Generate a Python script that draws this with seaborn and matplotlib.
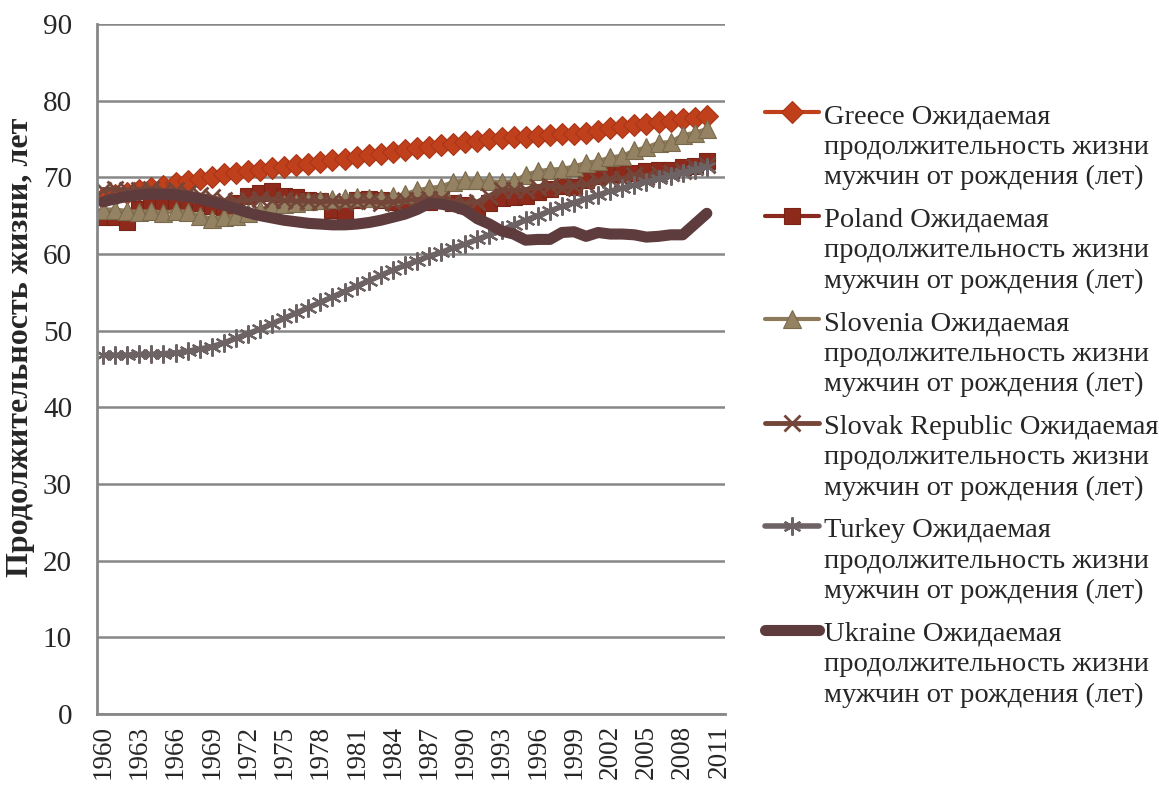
import matplotlib
matplotlib.use("Agg")
import matplotlib.pyplot as plt
import seaborn as sns
from matplotlib.legend_handler import HandlerLine2D

# categories on the x axis (2011 has no data)
years = list(range(1960, 2012))
data_years = list(range(1960, 2011))

greece = [67.3, 67.7, 68.0, 68.3, 68.6, 68.9, 69.2, 69.5, 69.8, 70.1,
          70.4, 70.6, 70.8, 71.0, 71.2, 71.4, 71.6, 71.8, 72.0, 72.2,
          72.4, 72.7, 72.9, 73.1, 73.3, 73.6, 73.8, 74.0, 74.2, 74.4,
          74.6, 74.8, 75.0, 75.1, 75.2, 75.3, 75.4, 75.5, 75.6, 75.7,
          75.8, 76.1, 76.4, 76.6, 76.8, 77.0, 77.2, 77.4, 77.6, 77.8, 78.0]
poland = [64.8, 64.8, 64.2, 65.9, 66.3, 66.6, 66.9, 66.7, 66.6, 66.3,
          66.1, 66.6, 67.6, 67.9, 68.2, 67.6, 67.4, 67.0, 66.9, 65.7,
          65.4, 67.1, 67.2, 67.0, 66.8, 66.5, 66.8, 66.8, 67.0, 66.7,
          66.4, 65.9, 66.6, 67.3, 67.4, 67.6, 68.1, 68.5, 68.9, 68.8,
          69.7, 70.2, 70.4, 70.5, 70.6, 70.8, 70.9, 71.0, 71.3, 71.5, 72.1]
slovenia = [65.8, 65.8, 65.6, 65.5, 65.6, 65.4, 65.6, 65.5, 65.0, 64.6,
            64.8, 65.0, 65.3, 65.8, 66.2, 66.5, 66.7, 66.9, 67.0, 67.2,
            67.3, 67.4, 67.3, 67.3, 67.5, 67.8, 68.3, 68.6, 68.8, 69.4,
            69.6, 69.6, 69.5, 69.4, 69.5, 70.3, 70.8, 71.0, 71.1, 71.4,
            71.9, 72.1, 72.6, 72.8, 73.5, 73.9, 74.5, 74.6, 75.5, 75.8, 76.3]
slovakia = [68.4, 68.5, 68.3, 68.4, 68.5, 68.2, 68.3, 68.0, 67.7, 67.4,
            67.0, 66.9, 67.0, 67.2, 67.1, 67.0, 66.9, 66.9, 66.8, 66.9,
            66.8, 66.9, 66.9, 66.7, 66.8, 67.0, 67.1, 67.2, 67.2, 66.8,
            66.6, 66.8, 67.6, 68.4, 68.3, 68.4, 68.8, 68.9, 68.6, 68.9,
            69.1, 69.5, 69.8, 69.8, 70.3, 70.1, 70.4, 70.5, 70.8, 71.3, 71.6]
turkey = [46.8, 46.8, 46.8, 46.9, 46.9, 47.0, 47.1, 47.3, 47.6, 47.9,
          48.4, 49.0, 49.6, 50.2, 50.9, 51.6, 52.3, 53.0, 53.7, 54.4,
          55.1, 55.8, 56.5, 57.2, 57.9, 58.5, 59.1, 59.7, 60.2, 60.8,
          61.3, 61.9, 62.5, 63.1, 63.8, 64.4, 65.0, 65.6, 66.2, 66.7,
          67.2, 67.7, 68.2, 68.6, 69.0, 69.4, 69.8, 70.2, 70.6, 71.0, 71.4]
ukraine = [66.8, 67.2, 67.5, 67.7, 67.8, 67.8, 67.7, 67.5, 67.2, 66.8,
           66.4, 65.9, 65.4, 65.0, 64.7, 64.4, 64.2, 64.0, 63.9, 63.8,
           63.8, 63.9, 64.1, 64.4, 64.8, 65.2, 65.8, 66.6, 66.5, 66.2,
           65.7, 64.6, 63.9, 63.0, 62.6, 61.8, 61.9, 61.9, 62.8, 62.9,
           62.3, 62.8, 62.6, 62.6, 62.5, 62.2, 62.3, 62.5, 62.5, 63.9, 65.3]

suffix = " Ожидаемая\nпродолжительность жизни\nмужчин от рождения (лет)"
countries = ["Greece", "Poland", "Slovenia", "Slovak Republic", "Turkey", "Ukraine"]
values = [greece, poland, slovenia, slovakia, turkey, ukraine]

styles = {
    "Greece": dict(color="#C0401B", marker="D", markersize=11, markerfacecolor="#C0401B",
                   markeredgecolor="#A8361A", markeredgewidth=0.8, linewidth=3),
    "Poland": dict(color="#8A2A1E", marker="s", markersize=11, markerfacecolor="#8E2A1C",
                   markeredgecolor="#7A2418", markeredgewidth=0.8, linewidth=3),
    "Slovenia": dict(color="#8C7A5A", marker="^", markersize=13, markerfacecolor="#958262",
                     markeredgecolor="#7A6A4C", markeredgewidth=0.8, linewidth=3),
    "Slovak Republic": dict(color="#74463A", marker="x", markersize=11, markeredgewidth=2,
                            markeredgecolor="#74463A", linewidth=3.5),
    "Turkey": dict(color="#6D6264", marker=(6, 2, 0), markersize=13, markeredgewidth=1.6,
                   markeredgecolor="#6D6264", linewidth=4),
    "Ukraine": dict(color="#5E3C3E", marker=None, linewidth=8, solid_capstyle="round"),
}

sns.set_style("white")
plt.rcParams['font.family'] = ['Liberation Serif', 'DejaVu Serif']

fig = plt.figure(figsize=(11.59, 7.89), dpi=100)
ax = fig.add_axes([0.0837, 0.0951, 0.6255 - 0.0837, 0.9696 - 0.0951])

for name, vals in zip(countries, values):
    sns.lineplot(x=data_years, y=vals, ax=ax, label=name + suffix, **styles[name])

ax.set_xlim(years[0] - 0.5, years[-1] + 0.5)
ax.set_ylim(0, 90)
ax.set_yticks(range(0, 91, 10))
ax.set_xticks(years[::3])
ax.set_xticklabels([str(y) for y in years[::3]], rotation=90)
ax.tick_params(axis="y", labelsize=21, length=6, width=1.5, color="#878787", pad=12)
ax.tick_params(axis="x", labelsize=19.5, length=0, pad=8)
ax.grid(axis="y", color="#878787", linewidth=1.8)
ax.set_axisbelow(True)
for side in ["top", "right"]:
    ax.spines[side].set_visible(False)
for side in ["left", "bottom"]:
    ax.spines[side].set_color("#878787")
    ax.spines[side].set_linewidth(2)
ax.set_xlabel("")
ax.set_ylabel("Продолжительность жизни, лет", fontsize=23, fontweight="bold")
ax.yaxis.set_label_coords(-0.099, 0.532)


class FirstLineHandler(HandlerLine2D):
    # put the handle next to the first line of the label
    def create_artists(self, legend, orig_handle, xdescent, ydescent, width, height, fontsize, trans):
        arts = super().create_artists(legend, orig_handle, xdescent, ydescent, width, height,
                                      fontsize, trans)
        for a in arts:
            a.set_ydata([y + 1.22 * fontsize for y in a.get_ydata()])
        return arts


handles, labels = ax.get_legend_handles_labels()
leg = ax.legend(handles, labels, loc="upper left", bbox_to_anchor=(1.045, 0.90),
                frameon=False, fontsize=20.5, labelspacing=0.62, handlelength=1.9,
                handletextpad=0.17, borderaxespad=0,
                handler_map={h: FirstLineHandler() for h in handles})
for t in leg.get_texts():
    t.set_linespacing(1.28)

fig.savefig("out.png", dpi=100)
